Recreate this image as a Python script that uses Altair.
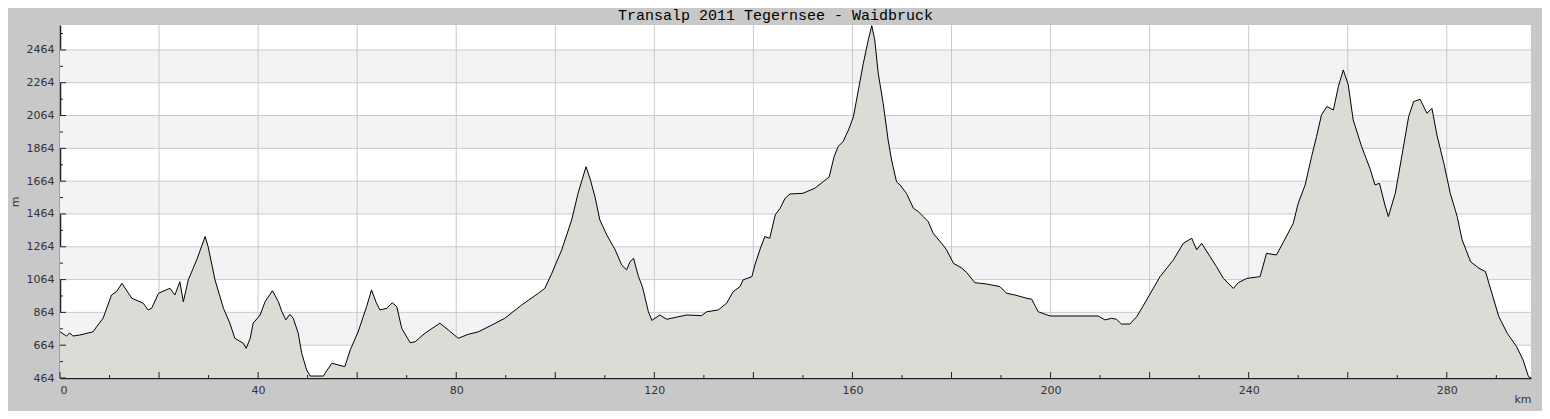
import altair as alt
import pandas as pd

# ---- data ----
km = [0, 1.3, 2.0, 2.6, 4.0, 6.7, 7.4, 8.7, 10.4, 11.4, 12.5, 14.5, 16.8, 17.8, 18.5, 19.9,
      22.2, 23.2, 24.2, 24.9, 25.9, 27.6, 29.3, 29.9, 31.3, 33.0, 34.3, 35.3, 37.0, 37.6,
      38.4, 39.0, 40.4, 41.4, 42.9, 44.1, 44.8, 45.6, 46.4, 47.1, 48.1, 48.8, 49.8, 50.5,
      53.2, 53.5, 54.9, 57.5, 58.6, 60.2, 61.9, 62.9, 63.9, 64.6, 66.0, 67.1, 68.0, 69.0,
      70.7, 71.7, 73.7, 76.7, 78.4, 80.4, 82.4, 84.5, 87.2, 89.8, 93.2, 96.6, 97.9, 99.3,
      101.3, 103.3, 104.6, 106.2, 107.0, 108.0, 109.0, 110.4, 112.1, 113.4, 114.4, 115.1,
      115.8, 116.8, 117.6, 118.8, 119.5, 121.1, 122.5, 126.5, 129.5, 130.6, 132.9, 134.6,
      135.9, 137.3, 137.9, 139.7, 140.3, 141.3, 142.3, 143.3, 144.4, 145.4, 146.4, 147.4,
      150.0, 152.4, 154.1, 155.3, 156.3, 157.1, 158.1, 159.2, 160.2, 161.2, 162.2, 163.2,
      163.9, 164.5, 165.2, 166.2, 167.2, 167.9, 168.9, 169.6, 170.9, 172.3, 173.3, 174.3,
      175.3, 176.3, 178.0, 179.0, 180.4, 182.1, 183.1, 184.7, 187.1, 189.8, 191.1, 192.8,
      195.2, 196.2, 197.5, 199.9, 209.6, 211.0, 212.3, 213.3, 214.3, 216.0, 217.4, 219.4,
      222.1, 224.8, 226.8, 228.5, 229.5, 230.5, 232.2, 233.5, 234.9, 236.9, 237.9, 239.6,
      242.3, 243.6, 245.6, 246.7, 249.0, 250.0, 251.4, 252.7, 253.7, 254.7, 255.8, 257.1,
      258.1, 259.1, 260.1, 261.1, 262.8, 264.5, 265.5, 266.4, 267.5, 268.2, 269.6, 270.9,
      272.3, 273.3, 274.6, 276.0, 277.0, 278.0, 279.4, 280.7, 282.1, 283.1, 284.8, 286.5,
      287.8, 289.1, 290.5, 292.2, 294.1, 295.4, 296.5, 297.0]
elev = [746, 720, 738, 720, 726, 746, 777, 828, 970, 990, 1041, 950, 920, 879, 889, 981,
        1011, 970, 1051, 929, 1062, 1184, 1326, 1265, 1062, 889, 798, 706, 676, 645,
        706, 798, 848, 929, 996, 929, 868, 818, 852, 828, 737, 615, 513, 476,
        476, 493, 554, 533, 635, 746, 899, 1001, 920, 879, 889, 923, 899, 767,
        679, 685, 737, 798, 757, 706, 730, 746, 787, 828, 909, 981, 1011, 1102,
        1245, 1427, 1590, 1752, 1681, 1570, 1427, 1336, 1245, 1153, 1123, 1173,
        1194, 1082, 1020, 868, 815, 848, 822, 848, 844, 868, 879, 920,
        990, 1021, 1062, 1082, 1153, 1245, 1326, 1316, 1458, 1499, 1560, 1586,
        1590, 1621, 1661, 1690, 1814, 1875, 1905, 1976, 2057, 2220, 2383, 2525,
        2612, 2525, 2322, 2139, 1915, 1793, 1660, 1641, 1590, 1499, 1478, 1448,
        1417, 1346, 1285, 1245, 1163, 1133, 1106, 1045, 1037, 1021, 981, 970,
        950, 944, 868, 842, 842, 818, 828, 822, 793, 793, 838, 940,
        1082, 1184, 1285, 1316, 1245, 1285, 1204, 1143, 1071, 1010, 1045, 1071,
        1082, 1224, 1214, 1275, 1407, 1529, 1641, 1814, 1936, 2068, 2119, 2098,
        2240, 2342, 2251, 2037, 1875, 1740, 1641, 1651, 1519, 1448, 1590, 1814,
        2058, 2149, 2163, 2078, 2108, 1946, 1773, 1590, 1448, 1306, 1173, 1133,
        1113, 981, 838, 737, 655, 574, 472, 464]

x_min, x_max = 0, 297
y_min, y_max = 464, 2616
y_labels = [464, 664, 864, 1064, 1264, 1464, 1664, 1864, 2064, 2264, 2464]
y_minor = [564, 764, 964, 1164, 1364, 1564, 1764, 1964, 2164, 2364, 2564]
x_labels = [0, 40, 80, 120, 160, 200, 240, 280]
x_grid = [20, 40, 60, 80, 100, 120, 140, 160, 180, 200, 220, 240, 260, 280]
x_major = [0, 20, 40, 60, 80, 100, 120, 140, 160, 180, 200, 220, 240, 260, 280]
x_minor = [10, 30, 50, 70, 90, 110, 130, 150, 170, 190, 210, 230, 250, 270, 290]
band_lo = [664, 1064, 1464, 1864, 2264]
band_hi = [864, 1264, 1664, 2064, 2464]

W, H = 1471, 353

profile = pd.DataFrame({"km": km, "m": elev})
bands = pd.DataFrame({"km": [x_min] * len(band_lo), "m": band_lo, "hi": band_hi})
ygrid = pd.DataFrame({"km": [x_min] * (len(y_labels) - 1), "m": y_labels[1:]})
xgrid = pd.DataFrame({"km": x_grid, "m": [y_min] * len(x_grid)})
ymaj_df = pd.DataFrame({"km": [x_min] * len(y_labels), "m": y_labels})
ymin_df = pd.DataFrame({"km": [x_min] * len(y_minor), "m": y_minor})
xmaj_df = pd.DataFrame({"km": x_major, "m": [y_min] * len(x_major)})
xmin_df = pd.DataFrame({"km": x_minor, "m": [y_min] * len(x_minor)})

xs = alt.Scale(domain=[x_min, x_max], nice=False, zero=False)
ys = alt.Scale(domain=[y_min, y_max], nice=False, zero=False)

X = alt.X("km:Q", scale=xs, title="km",
          axis=alt.Axis(values=x_labels, format="d", titleAnchor="end", titleAlign="right",
                        titleBaseline="bottom", titleX=W, titleY=26))
Y = alt.Y("m:Q", scale=ys, title="m",
          axis=alt.Axis(values=y_labels, format="d", titleX=-45, titleY=H / 2,
                        titleBaseline="middle", titleAlign="center", titleAngle=270))

band_layer = alt.Chart(bands).mark_rect(color="#f3f2f5").encode(
    y=Y, y2="hi:Q", x=alt.value(0), x2=alt.value(W))

hgrid = alt.Chart(ygrid).mark_rule(color="#cacaca", strokeWidth=1).encode(
    y=Y, x=alt.value(0), x2=alt.value(W))

vgrid = alt.Chart(xgrid).mark_rule(color="#cacaca", strokeWidth=1).encode(
    x=X, y=alt.value(0), y2=alt.value(H))

area = alt.Chart(profile).mark_area(color="#dcdbd6", opacity=1).encode(
    x=X, y=Y, y2=alt.Y2(datum=y_min))

line = alt.Chart(profile).mark_line(color="black", strokeWidth=1).encode(x=X, y=Y)

ymaj = alt.Chart(ymaj_df).mark_rule(color="#222222").encode(
    y=Y, x=alt.value(0), x2=alt.value(6))
ymin_ = alt.Chart(ymin_df).mark_rule(color="#222222").encode(
    y=Y, x=alt.value(0), x2=alt.value(3))
xmaj = alt.Chart(xmaj_df).mark_rule(color="#222222").encode(
    x=X, y=alt.value(H), y2=alt.value(H - 6))
xmin_ = alt.Chart(xmin_df).mark_rule(color="#222222").encode(
    x=X, y=alt.value(H), y2=alt.value(H - 3))

chart = alt.layer(band_layer, hgrid, vgrid, area, line, ymaj, ymin_, xmaj, xmin_).properties(
    width=W, height=H,
    title=alt.TitleParams("Transalp 2011 Tegernsee - Waidbruck", font="Liberation Mono",
                          fontSize=15, fontWeight="normal", color="black", anchor="middle",
                          dx=-20, dy=19, offset=8, baseline="alphabetic"),
    autosize=alt.AutoSizeParams(type="none"),
    padding={"left": 52, "top": 17, "right": 11, "bottom": 33},
    background="#c8c8c8",
).configure_view(fill="white", strokeWidth=0).configure_axis(
    ticks=False, grid=False, labelFontSize=11, labelColor="#333333",
    labelFont="DejaVu Sans", labelPadding=6, domainColor="#222222", domainWidth=1.5,
    titleFont="DejaVu Sans", titleFontSize=11, titleFontWeight="normal",
    titleColor="#333333")

chart.save("out.html", embed_options={"renderer": "svg", "actions": False})
